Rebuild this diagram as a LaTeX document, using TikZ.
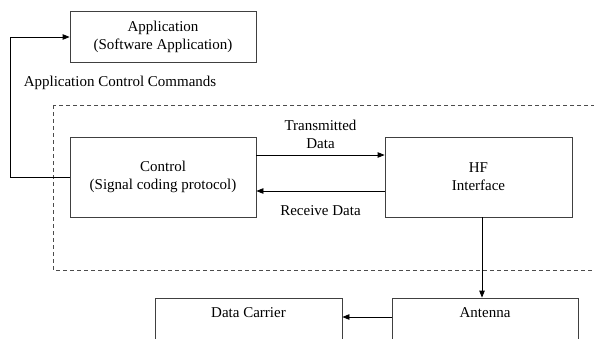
\documentclass[tikz,border=0pt]{standalone}
\usepackage{fontspec}
\setmainfont{Liberation Serif}
\usetikzlibrary{arrows.meta}

\begin{document}
\begin{tikzpicture}[x=1pt,y=-1pt,font=\fontsize{15}{18}\selectfont,
    box/.style={draw=black!75,line width=0.8pt,align=center,inner sep=0pt},
    arr/.style={line width=0.8pt,-{Triangle[length=7pt,width=5.5pt]}}]
       \useasboundingbox(0,0)rectangle(594,338);%枠
       \clip(0,0)rectangle(594,338);

       \draw[dashed,dash pattern=on 4pt off 3pt,black!70,line width=0.8pt]
           (53,105)rectangle(600,270);%点線の枠

       \node[box,minimum width=186,minimum height=51](app)at(163,37)
           {Application\\(Software Application)};
       \node[box,minimum width=186,minimum height=80](ctrl)at(163,177)
           {Control\\(Signal coding protocol)};
       \node[box,minimum width=187,minimum height=80](hf)at(478.5,177)
           {HF\\Interface};
       \node[box,minimum width=187,minimum height=80,
           label={[anchor=north,yshift=-6pt]north:Data Carrier}](dc)at(248.5,338){};
       \node[box,minimum width=186,minimum height=80,
           label={[anchor=north,yshift=-6pt]north:Antenna}](ant)at(485,338){};

       \node(cmd)at(120,83){Application Control Commands};

       \draw[arr](ctrl.west)--++(-59,0)|-(app.west);%左のループ
       \draw[arr]([yshift=22pt]ctrl.east)--([yshift=22pt]hf.west)
           node[midway,above=3pt,align=center]{Transmitted\\Data};
       \draw[arr]([yshift=-14pt]hf.west)--([yshift=-14pt]ctrl.east)
           node[midway,below=11pt]{Receive Data};
       \draw[arr]([xshift=3.5pt]hf.south)--([xshift=3.5pt]hf.south|-ant.north);
       \draw[arr]([yshift=21pt]ant.west)--([yshift=21pt]dc.east);
\end{tikzpicture}
\end{document}
